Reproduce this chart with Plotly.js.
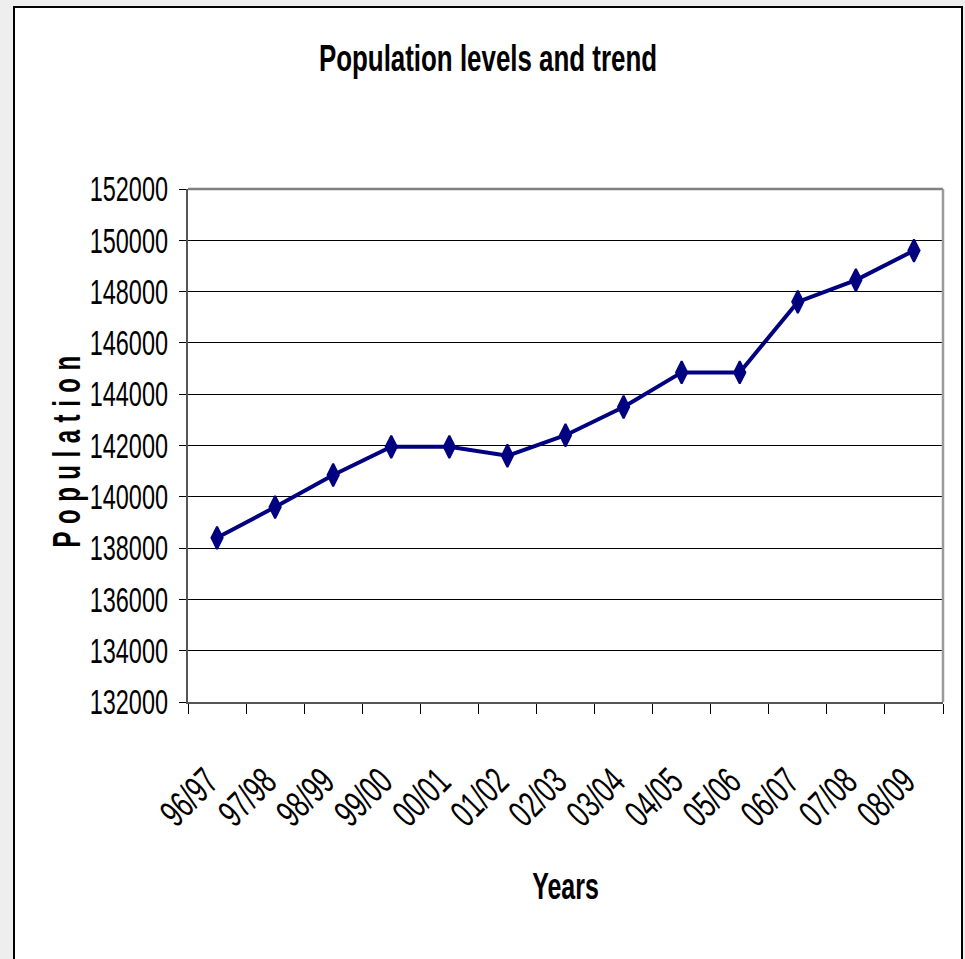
<!DOCTYPE html>
<html>
<head>
<meta charset="utf-8">
<script src="https://cdn.plot.ly/plotly-3.0.1.min.js"></script>
<style>
  html, body { margin:0; padding:0; width:965px; height:959px; overflow:hidden; background:#eeeeee; }
  #frame { position:absolute; left:13px; top:6px; width:950px; height:960px; border:2px solid #000; background:#fff; box-sizing:border-box; }
  #chart { position:absolute; left:0; top:0; width:965px; height:959px; }
</style>
</head>
<body>
<div id="frame"></div>
<div id="chart"></div>
<script>
const years = ["96/97","97/98","98/99","99/00","00/01","01/02","02/03","03/04","04/05","05/06","06/07","07/08","08/09"];
const population = [138400,139600,140850,141950,141950,141600,142400,143500,144850,144850,147600,148450,149600];
const yTicks = [132000,134000,136000,138000,140000,142000,144000,146000,148000,150000,152000];

const FONT = '"Liberation Sans Narrow", "Arial Narrow", "Liberation Sans", Arial, sans-serif';

const trace = {
  x: years,
  y: population,
  type: 'scatter',
  mode: 'lines+markers',
  line: { color: '#000080', width: 4 },
  marker: { symbol: 'diamond-tall', size: 16, color: '#000080', line: { color: '#000080', width: 2 } },
  cliponaxis: false,
  hoverinfo: 'x+y'
};

const layout = {
  width: 965,
  height: 959,
  paper_bgcolor: 'rgba(0,0,0,0)',
  plot_bgcolor: '#ffffff',
  margin: { l: 188, r: 22, t: 189, b: 257, pad: 0 },
  showlegend: false,
  title: {
    text: 'Population levels and trend',
    font: { family: FONT, size: 37, weight: 'bold', color: '#000' },
    x: 488/965, xref: 'container', xanchor: 'center',
    y: 1 - 58/959, yref: 'container', yanchor: 'middle'
  },
  xaxis: {
    type: 'category',
    range: [-0.5, years.length - 0.5],
    tickson: 'boundaries',
    ticks: 'outside',
    ticklen: 10,
    tickcolor: '#000',
    tickwidth: 1,
    showline: true,
    linecolor: '#555',
    linewidth: 2,
    mirror: false,
    showgrid: false,
    tickangle: -45,
    ticklabelstandoff: 40,
    ticklabelshift: -10,
    tickfont: { family: FONT, size: 38, color: '#000' },
    title: {
      text: 'Years',
      font: { family: FONT, size: 37, weight: 'bold', color: '#000' },
      standoff: 17
    },
    automargin: false,
    fixedrange: true
  },
  yaxis: {
    range: [132000, 152000],
    tickvals: yTicks,
    ticktext: yTicks.map(String),
    ticks: 'outside',
    ticklen: 7,
    tickcolor: '#000',
    tickwidth: 1,
    showline: true,
    linecolor: '#555',
    linewidth: 2,
    mirror: false,
    showgrid: true,
    gridcolor: '#000',
    gridwidth: 1,
    zeroline: false,
    tickfont: { family: FONT, size: 35, color: '#000' },
    ticklabelstandoff: 4,
    automargin: false,
    fixedrange: true
  },
  shapes: [
    { type: 'line', xref: 'paper', yref: 'paper', x0: 0, x1: 1, y0: 1, y1: 1, line: { color: '#808080', width: 2.5 } },
    { type: 'line', xref: 'paper', yref: 'paper', x0: 1, x1: 1, y0: 0, y1: 1, line: { color: '#9a9a9a', width: 2.5 } }
  ],
  annotations: [
    {
      text: 'Population',
      xref: 'paper', yref: 'paper',
      x: (67 - 188) / 755, y: 0.495,
      xanchor: 'center', yanchor: 'middle',
      textangle: -90,
      showarrow: false,
      font: { family: FONT, size: 38, weight: 'bold', color: '#000' }
    }
  ]
};

function squeeze(sel, k, spacing) {
  document.querySelectorAll(sel).forEach(t => {
    if (spacing) t.style.letterSpacing = spacing;
    const L = t.getComputedTextLength();
    if (L > 0) {
      t.setAttribute('textLength', (L * k).toFixed(1));
      t.setAttribute('lengthAdjust', 'spacingAndGlyphs');
    }
  });
}

Plotly.newPlot('chart', [trace], layout, { displayModeBar: false, staticPlot: true }).then(() => {
  squeeze('#chart .ytick text', 0.67);
  squeeze('#chart .xtick text', 0.66);
  squeeze('#chart .gtitle', 0.70);
  squeeze('#chart .g-xtitle text', 0.675);
  squeeze('#chart .annotation-text', 0.63, '12px');
});
</script>
</body>
</html>
